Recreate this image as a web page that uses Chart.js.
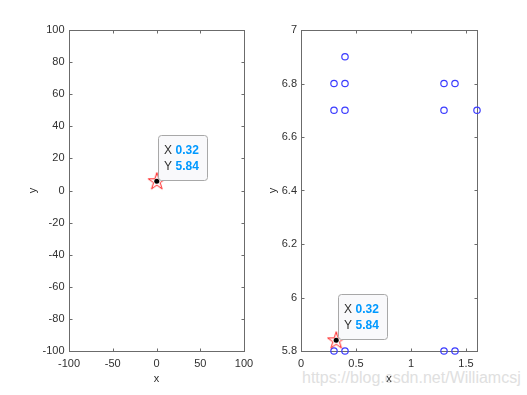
<!DOCTYPE html>
<html>
<head>
<meta charset="utf-8">
<script src="https://cdn.jsdelivr.net/npm/chart.js@4"></script>
<style>
    html, body { margin: 0; padding: 0; background: #fff; }
    #wrap { position: relative; width: 527px; height: 395px; overflow: hidden; }
    #wrap canvas { position: absolute; left: 0; top: 0; }
    #mark {
        position: absolute; left: 302px; top: 369px;
        font: 16px "Liberation Sans", Arial, sans-serif;
        color: #e0e0e0; white-space: nowrap;
    }
</style>
</head>
<body>
<div id="wrap">
    <div id="mark">https://blog.csdn.net/Williamcsj</div>
    <canvas id="leftChart" width="527" height="395"></canvas>
    <canvas id="rightChart" width="527" height="395"></canvas>
</div>
<script>
// scatter points (right plot)
const pointX = [0.3, 0.3, 0.4, 0.4, 0.4, 1.3, 1.4, 1.3, 1.6, 0.3, 0.4, 1.3, 1.4];
const pointY = [6.7, 6.8, 6.7, 6.8, 6.9, 6.8, 6.8, 6.7, 6.7, 5.8, 5.8, 5.8, 5.8];

// picked point (star + datatip)
const pickX = 0.32;
const pickY = 5.84;

// tick labels
const leftXTicks = [-100, -50, 0, 50, 100];
const leftYTicks = [-100, -80, -60, -40, -20, 0, 20, 40, 60, 80, 100];
const rightXTicks = [0, 0.5, 1, 1.5];
const rightYTicks = [5.8, 6, 6.2, 6.4, 6.6, 6.8, 7];

const FONT = '"Liberation Sans", Arial, sans-serif';
const TXT = '#303030';

// 5-point star marker
function makeStar() {
    const c = document.createElement('canvas');
    c.width = 22; c.height = 22;
    const g = c.getContext('2d');
    const R = 9, r = R * 0.382, cx = 11, cy = 11.5;
    g.beginPath();
    for (let i = 0; i < 10; i++) {
        const rad = i % 2 === 0 ? R : r;
        const a = -Math.PI / 2 + i * Math.PI / 5;
        const px = cx + rad * Math.cos(a), py = cy + rad * Math.sin(a);
        if (i === 0) g.moveTo(px, py); else g.lineTo(px, py);
    }
    g.closePath();
    g.strokeStyle = '#ff1a1a';
    g.lineWidth = 1;
    g.stroke();
    return c;
}
const starImg = makeStar();

// box, inward ticks, datatip
const matlabPlugin = {
    id: 'matlabAxes',
    beforeDatasetsDraw(chart) {
        const { ctx, chartArea: a, scales } = chart;
        const L = Math.round(a.left) + 0.5, R = Math.round(a.right) + 0.5;
        const T = Math.round(a.top) + 0.5, B = Math.round(a.bottom) + 0.5;
        ctx.save();
        ctx.strokeStyle = '#6b6b6b';
        ctx.lineWidth = 1;
        ctx.strokeRect(L, T, R - L, B - T);
        ctx.beginPath();
        scales.x.ticks.forEach(t => {
            const px = Math.round(scales.x.getPixelForValue(t.value)) + 0.5;
            ctx.moveTo(px, B); ctx.lineTo(px, B - 3);
            ctx.moveTo(px, T); ctx.lineTo(px, T + 3);
        });
        scales.y.ticks.forEach(t => {
            const py = Math.round(scales.y.getPixelForValue(t.value)) + 0.5;
            ctx.moveTo(L, py); ctx.lineTo(L + 3, py);
            ctx.moveTo(R, py); ctx.lineTo(R - 3, py);
        });
        ctx.stroke();
        ctx.restore();
    },
    afterDraw(chart) {
        const { ctx, scales } = chart;
        const px = scales.x.getPixelForValue(pickX);
        const py = scales.y.getPixelForValue(pickY);
        const w = 49, h = 45;
        const left = Math.round(px + 1.5) + 0.5, top = Math.round(py - 1.5 - h) + 0.5;
        ctx.save();
        ctx.beginPath();
        ctx.roundRect(left, top, w, h, 3);
        ctx.fillStyle = '#f9f9fb';
        ctx.fill();
        ctx.strokeStyle = '#a8a8a8';
        ctx.lineWidth = 1;
        ctx.stroke();
        ctx.textBaseline = 'middle';
        ctx.font = '12px ' + FONT;
        ctx.fillStyle = TXT;
        ctx.fillText('X', left + 5.5, top + 15);
        ctx.fillText('Y', left + 5.5, top + 31.5);
        ctx.font = 'bold 12px ' + FONT;
        ctx.fillStyle = '#0099ff';
        ctx.fillText(pickX.toFixed(2), left + 17, top + 15);
        ctx.fillText(pickY.toFixed(2), left + 17, top + 31.5);
        ctx.restore();
    }
};

function axisOpts(min, max, ticksArr, title, isX, size, titlePad, tickPad) {
    return {
        type: 'linear',
        position: isX ? 'bottom' : 'left',
        min: min,
        max: max,
        grid: { display: false, drawTicks: false },
        border: { display: false },
        afterBuildTicks: s => { s.ticks = ticksArr.map(v => ({ value: v })); },
        afterFit: s => { if (isX) s.height = size; else s.width = size; },
        ticks: {
            autoSkip: false,
            maxRotation: 0,
            padding: tickPad,
            color: TXT,
            font: { family: FONT, size: 11 },
            callback: v => String(Math.round(v * 100) / 100)
        },
        title: {
            display: true,
            text: title,
            color: TXT,
            font: { family: FONT, size: 11 },
            padding: isX ? { top: 0, bottom: titlePad } : { top: titlePad, bottom: 0 }
        }
    };
}

function buildDatasets(withCircles) {
    const sets = [
        {
            data: [{ x: pickX, y: pickY }],
            pointStyle: 'circle',
            pointRadius: 2.5,
            backgroundColor: '#000',
            borderColor: '#000',
            borderWidth: 0,
            clip: false,
            order: 0
        },
        {
            data: [{ x: pickX, y: pickY }],
            pointStyle: starImg,
            pointRadius: 9,
            clip: false,
            order: 1
        }
    ];
    if (withCircles) {
        sets.push({
            data: pointX.map((x, i) => ({ x: x, y: pointY[i] })),
            pointStyle: 'circle',
            pointRadius: 3.2,
            backgroundColor: 'rgba(0,0,0,0)',
            borderColor: '#3c3cff',
            borderWidth: 1.2,
            clip: false,
            order: 2
        });
    }
    return sets;
}

function commonOptions(padding, xAxis, yAxis) {
    return {
        responsive: false,
        animation: false,
        events: [],
        layout: { padding: padding },
        plugins: { legend: { display: false }, tooltip: { enabled: false } },
        scales: { x: xAxis, y: yAxis }
    };
}

new Chart(document.getElementById('leftChart'), {
    type: 'scatter',
    data: { datasets: buildDatasets(false) },
    options: commonOptions(
        { left: 0, right: 283, top: 30, bottom: 0 },
        axisOpts(-100, 100, leftXTicks, 'x', true, 44, 9.4, 6),
        axisOpts(-100, 100, leftYTicks, 'y', false, 69, 26.4, 4.5)
    ),
    plugins: [matlabPlugin]
});

new Chart(document.getElementById('rightChart'), {
    type: 'scatter',
    data: { datasets: buildDatasets(true) },
    options: commonOptions(
        { left: 260, right: 50, top: 30, bottom: 0 },
        axisOpts(0, 1.6, rightXTicks, 'x', true, 44, 9.4, 6),
        axisOpts(5.8, 7, rightYTicks, 'y', false, 41, 6.4, 4)
    ),
    plugins: [matlabPlugin]
});
</script>
</body>
</html>
